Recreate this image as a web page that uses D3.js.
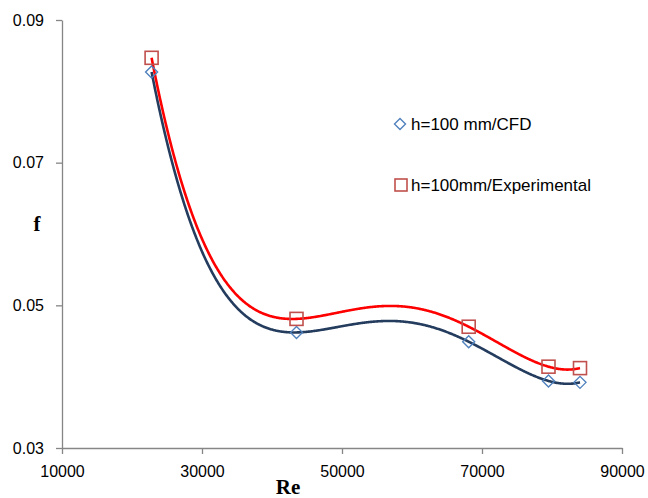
<!DOCTYPE html>
<html><head><meta charset="utf-8">
<script src="https://cdn.jsdelivr.net/npm/d3@7"></script>
<style>body{margin:0;background:#fff}svg{display:block}</style>
</head><body>
<svg id="chart" width="648" height="498"></svg>
<script>
const reValues = [22800, 43500, 68100, 79500, 84000];
const fCFD = [0.0827, 0.0462, 0.0449, 0.0394, 0.0392];
const fExp = [0.0847, 0.0481, 0.0470, 0.0414, 0.0412];
const xTicks = [10000, 30000, 50000, 70000, 90000];
const yTicks = [0.03, 0.05, 0.07, 0.09];
const seriesNames = ["h=100 mm/CFD", "h=100mm/Experimental"];

const svg = d3.select("#chart");
const x = d3.scaleLinear().domain([10000, 90000]).range([62, 622]);
const y = d3.scaleLinear().domain([0.03, 0.09]).range([448, 20]);
const axisColor = "#868686";
const font = "'Liberation Sans', Arial, sans-serif";

const gx = svg.append("g").attr("transform", "translate(0,448)")
  .call(d3.axisBottom(x).tickValues(xTicks).tickSize(6).tickSizeOuter(0).tickPadding(9).tickFormat(d3.format("d")));
const gy = svg.append("g").attr("transform", "translate(62,0)")
  .call(d3.axisLeft(y).tickValues(yTicks).tickSize(6).tickSizeOuter(0).tickPadding(12).tickFormat(d3.format(".2f")));
[gx, gy].forEach(g => {
  g.select(".domain").attr("stroke", axisColor).attr("stroke-width", 1.3);
  g.selectAll(".tick line").attr("stroke", axisColor).attr("stroke-width", 1.3);
  g.selectAll(".tick text").attr("fill", "#000").style("font-family", font).style("font-size", "16px");
});
gx.selectAll(".tick text").attr("dy", "0.9em");

// order-4 polynomial trendline (exact interpolation through the 5 points)
function polyFit(xs, ys) {
  return t => {
    let s = 0;
    for (let i = 0; i < xs.length; i++) {
      let L = 1;
      for (let j = 0; j < xs.length; j++) if (j !== i) L *= (t - xs[j]) / (xs[i] - xs[j]);
      s += ys[i] * L;
    }
    return s;
  };
}
const samples = d3.range(reValues[0], reValues[reValues.length - 1], 100).concat([reValues[reValues.length - 1]]);
const curvePath = vals => {
  const p = polyFit(reValues, vals);
  return d3.line().x(t => x(t)).y(t => y(p(t)))(samples);
};

svg.append("path").attr("d", curvePath(fCFD)).attr("fill", "none").attr("stroke", "#243C5E").attr("stroke-width", 2.6);
svg.append("path").attr("d", curvePath(fExp)).attr("fill", "none").attr("stroke", "#FF0000").attr("stroke-width", 2.6);

const diamond = s => `M0,${-s}L${s},0L0,${s}L${-s},0Z`;
svg.selectAll(".dm").data(fCFD).join("path")
  .attr("transform", (d, i) => `translate(${x(reValues[i])},${y(d)})`)
  .attr("d", diamond(6)).attr("fill", "none").attr("stroke", "#4F81BD").attr("stroke-width", 1.4);
svg.selectAll(".sq").data(fExp).join("rect")
  .attr("x", (d, i) => x(reValues[i]) - 6.5).attr("y", d => y(d) - 6.5)
  .attr("width", 13).attr("height", 13).attr("fill", "none").attr("stroke", "#C0504D").attr("stroke-width", 1.6);

// legend
const lg = svg.append("g");
lg.append("path").attr("transform", "translate(400,124)").attr("d", diamond(5.5)).attr("fill", "none").attr("stroke", "#4F81BD").attr("stroke-width", 1.4);
lg.append("rect").attr("x", 395).attr("y", 179).attr("width", 12).attr("height", 12).attr("fill", "none").attr("stroke", "#C0504D").attr("stroke-width", 1.6);
lg.append("text").attr("x", 411).attr("y", 130).text(seriesNames[0]).style("font-family", font).style("font-size", "17px");
lg.append("text").attr("x", 411).attr("y", 191).text(seriesNames[1]).style("font-family", font).style("font-size", "17px");

svg.append("text").attr("x", 288).attr("y", 494).attr("text-anchor", "middle").text("Re")
  .style("font-family", "'Liberation Serif', 'Times New Roman', serif").style("font-weight", "bold").style("font-size", "21px");
svg.append("text").attr("x", 37).attr("y", 231).attr("text-anchor", "middle").text("f")
  .style("font-family", "'Liberation Serif', 'Times New Roman', serif").style("font-weight", "bold").style("font-size", "21px");
</script>
</body></html>
